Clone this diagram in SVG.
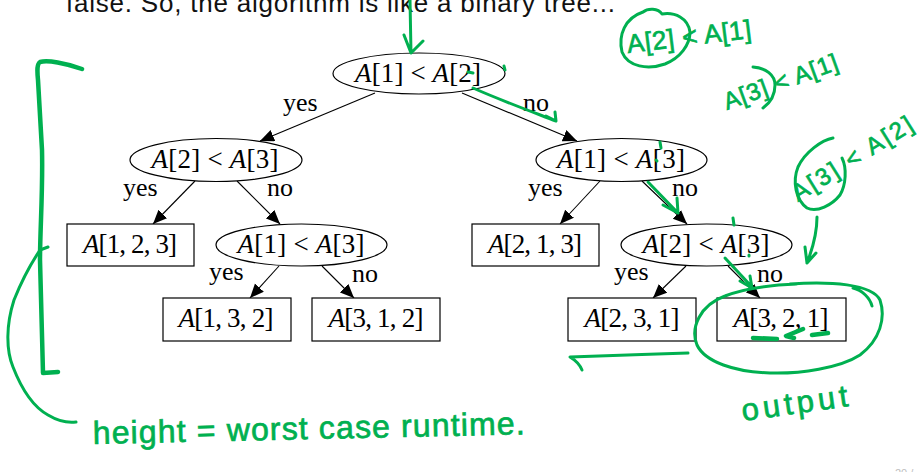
<svg xmlns="http://www.w3.org/2000/svg" width="923" height="472" viewBox="0 0 923 472">
<style>
.nd{fill:#fff;stroke:#000;stroke-width:1.2}
.t{font-family:"Liberation Serif","Times New Roman",serif;font-size:27px;fill:#000;text-anchor:middle}
.lb{font-family:"Liberation Serif","Times New Roman",serif;font-size:26px;fill:#000}
.e{stroke:#000;stroke-width:1.1;fill:none;marker-end:url(#ah)}
.ink{fill:none;stroke:#00b050;stroke-width:3;stroke-linecap:round;stroke-linejoin:round}
.thick{stroke-width:4.5}
.hw{font-family:"Liberation Sans",Arial,sans-serif;fill:#00b050;stroke:#00b050;stroke-width:0.7}
</style>
<defs>
<marker id="ah" markerUnits="userSpaceOnUse" markerWidth="15" markerHeight="13" refX="14" refY="6" orient="auto">
<path d="M0,0 L14,6 L0,12 z" fill="#000"/>
</marker>
</defs>
<rect width="923" height="472" fill="#fff"/>
<text x="66" y="12" font-family="Liberation Sans,Arial,sans-serif" font-size="26" fill="#111" textLength="549">false. So, the algorithm is like a binary tree...</text>

<g id="edges">
<line class="e" x1="375" y1="93" x2="260" y2="141"/>
<line class="e" x1="462" y1="93" x2="577" y2="141"/>
<line class="e" x1="195" y1="181" x2="153" y2="224"/>
<line class="e" x1="237" y1="181" x2="280" y2="224"/>
<line class="e" x1="279" y1="266" x2="250" y2="298"/>
<line class="e" x1="322" y1="266" x2="354" y2="298"/>
<line class="e" x1="600" y1="181" x2="560" y2="224"/>
<line class="e" x1="642" y1="181" x2="687" y2="224"/>
<line class="e" x1="686" y1="266" x2="653" y2="298"/>
<line class="e" x1="728" y1="266" x2="760" y2="298"/>
<text class="lb" x="283" y="111">yes</text>
<text class="lb" x="523" y="111">no</text>
<text class="lb" x="123" y="196">yes</text>
<text class="lb" x="267" y="196">no</text>
<text class="lb" x="209" y="280">yes</text>
<text class="lb" x="352" y="282">no</text>
<text class="lb" x="528" y="196">yes</text>
<text class="lb" x="672" y="196">no</text>
<text class="lb" x="614" y="280">yes</text>
<text class="lb" x="757" y="282">no</text>
</g>

<g id="n_root"><ellipse class="nd" cx="419" cy="73.5" rx="86" ry="20.5"/><text class="t" x="418" y="82" textLength="126"><tspan font-style="italic">A</tspan>[1] &lt; <tspan font-style="italic">A</tspan>[2]</text></g>
<g id="n_l"><ellipse class="nd" cx="216" cy="160" rx="86" ry="21.5"/><text class="t" x="215" y="168" textLength="127"><tspan font-style="italic">A</tspan>[2] &lt; <tspan font-style="italic">A</tspan>[3]</text></g>
<g id="n_r"><ellipse class="nd" cx="621.5" cy="160" rx="85.5" ry="21.5"/><text class="t" x="621" y="168" textLength="128"><tspan font-style="italic">A</tspan>[1] &lt; <tspan font-style="italic">A</tspan>[3]</text></g>
<g id="n_lr"><ellipse class="nd" cx="301.5" cy="245" rx="85.5" ry="21"/><text class="t" x="301" y="253" textLength="127"><tspan font-style="italic">A</tspan>[1] &lt; <tspan font-style="italic">A</tspan>[3]</text></g>
<g id="n_rr"><ellipse class="nd" cx="706.5" cy="245" rx="85.5" ry="21"/><text class="t" x="706" y="253" textLength="127"><tspan font-style="italic">A</tspan>[2] &lt; <tspan font-style="italic">A</tspan>[3]</text></g>
<g id="n_123"><rect class="nd" x="67" y="224" width="127" height="42"/><text class="t" x="130" y="253" textLength="94"><tspan font-style="italic">A</tspan>[1, 2, 3]</text></g>
<g id="n_132"><rect class="nd" x="163" y="298" width="128" height="43"/><text class="t" x="226" y="327" textLength="95"><tspan font-style="italic">A</tspan>[1, 3, 2]</text></g>
<g id="n_312"><rect class="nd" x="312" y="298" width="128" height="43"/><text class="t" x="376" y="327" textLength="95"><tspan font-style="italic">A</tspan>[3, 1, 2]</text></g>
<g id="n_213"><rect class="nd" x="472" y="224" width="127" height="42"/><text class="t" x="535" y="253" textLength="94"><tspan font-style="italic">A</tspan>[2, 1, 3]</text></g>
<g id="n_231"><rect class="nd" x="568" y="298" width="128" height="43"/><text class="t" x="632" y="327" textLength="95"><tspan font-style="italic">A</tspan>[2, 3, 1]</text></g>
<g id="n_321"><rect class="nd" x="717" y="298" width="129" height="43"/><text class="t" x="781" y="327" textLength="95"><tspan font-style="italic">A</tspan>[3, 2, 1]</text></g>

<g id="annotations">
<path class="ink" d="M410 0 L411 53 M404 35 L411 53 L423 41"/>
<path class="ink" d="M473 88 C500 100 530 111 556 121 M546 116 L556 121 L555 112"/>
<path class="ink" d="M468 72 L473 73 M504 66 L505 70"/>
<path class="ink" d="M660 142 L661 148 M656 160 L657 161"/>
<path class="ink" d="M648 182 L678 213 M663 205 L678 213 L677 198"/>
<path class="ink" d="M733 218 L734 225 M749 255 L749 256"/>
<path class="ink" d="M725 258 L752 287 M740 281 L752 288 L750 276"/>
<path class="ink" d="M790 284 C830 281 872 284 880 300 C886 318 880 340 860 355 C840 368 800 374 770 373 C735 372 705 362 697 345 C690 328 700 305 725 296 C745 288 770 285 797 284 M853 288 C862 290 870 298 872 306"/>
<path class="ink thick" d="M753 338 L777 339 M803 329 L786 336 L794 338 M812 335 L828 333"/>
<path class="ink" d="M688 353 C650 354 600 356 570 357 C575 360 580 365 582 370"/>
<path class="ink thick" d="M82 69 C65 63 48 60 40 62 C37 64 37 70 38 80 L42 150 C43 190 40 230 40 260 L43 373 L58 372"/>
<path class="ink" d="M48 247 L40 250 C30 265 22 280 14 300 C6 325 6 350 13 367 C20 385 30 405 48 415 C58 421 68 423 76 422"/>
<path class="ink" d="M690 32 C688 18 675 12 662 14 C658 8 648 8 643 12 C625 18 618 35 622 52 C628 67 648 70 665 64 C680 58 690 45 690 32"/>
<path class="ink" d="M753 67 C766 68 775 75 775 85 C775 95 770 103 763 108"/>
<path class="ink" d="M833 138 C822 140 805 152 798 167 C792 182 796 200 807 208 C817 213 832 205 840 195 C846 185 847 168 842 158"/>
<path class="ink" d="M817 217 C817 230 814 245 807 263 M805 247 L807 263 L816 253"/>
<text class="hw" font-size="26" x="628" y="53" textLength="125" transform="rotate(-7 628 53)">A[2] &lt; A[1]</text>
<text class="hw" font-size="24" x="727" y="110" textLength="120" transform="rotate(-20 727 110)">A[3] &lt; A[1]</text>
<text class="hw" font-size="24" x="798" y="202" textLength="138" transform="rotate(-32 798 202)">A[3] &lt; A[2]</text>
<text class="hw" font-size="31" x="743" y="421" textLength="107" transform="rotate(-8 743 421)">output</text>
<text class="hw" font-size="32" x="93" y="444" textLength="432" transform="rotate(-1.3 93 444)">height = worst case runtime.</text>
</g>
<text x="895" y="477" font-family="Liberation Sans,Arial,sans-serif" font-size="11" fill="#c0c0c0">20 /</text>
</svg>
